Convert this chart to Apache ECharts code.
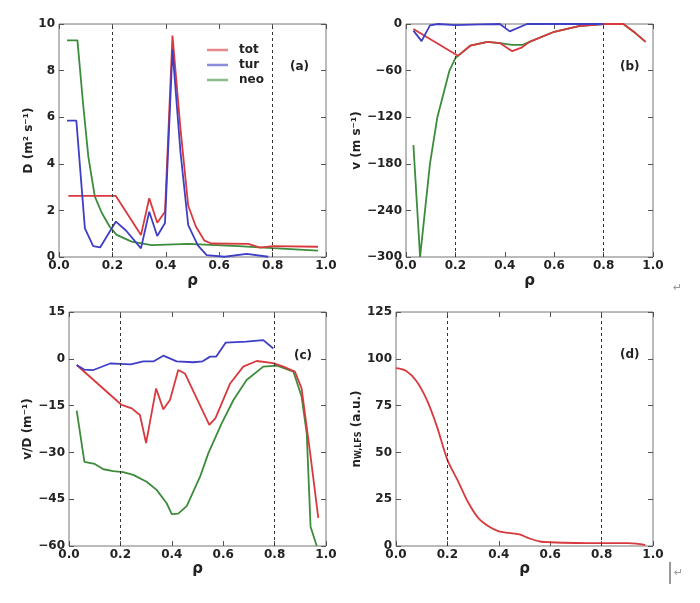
<!DOCTYPE html>
<html>
<head>
<meta charset="utf-8">
<script src="https://cdn.jsdelivr.net/npm/echarts@6/dist/echarts.min.js"></script>
<style>
  html, body { margin: 0; padding: 0; background: #fff; }
  #chart { width: 700px; height: 603px; }
</style>
</head>
<body>
<div id="chart"></div>
<script>
// (a) diffusion D
const aTotRho = [0.035, 0.213, 0.307, 0.338, 0.368, 0.397, 0.425, 0.455, 0.484, 0.513, 0.545, 0.57, 0.709, 0.753, 0.8, 0.97]
const aTotD = [2.62, 2.62, 0.94, 2.52, 1.47, 1.94, 9.5, 5.5, 2.2, 1.3, 0.7, 0.58, 0.56, 0.4, 0.47, 0.44]
const aTurRho = [0.03, 0.065, 0.097, 0.128, 0.154, 0.213, 0.25, 0.307, 0.338, 0.368, 0.397, 0.425, 0.455, 0.484, 0.52, 0.553, 0.62, 0.703, 0.784]
const aTurD = [5.85, 5.85, 1.23, 0.47, 0.41, 1.52, 1.15, 0.37, 1.94, 0.9, 1.46, 8.9, 4.5, 1.37, 0.5, 0.08, 0.01, 0.13, 0.01]
const aNeoRho = [0.03, 0.069, 0.09, 0.11, 0.134, 0.16, 0.19, 0.216, 0.272, 0.347, 0.484, 0.672, 0.8, 0.97]
const aNeoD = [9.3, 9.3, 6.6, 4.3, 2.6, 1.9, 1.3, 0.95, 0.66, 0.51, 0.56, 0.47, 0.38, 0.27]

// (b) convection v
const bTotRho = [0.03, 0.21, 0.26, 0.33, 0.38, 0.43, 0.47, 0.5, 0.6, 0.7, 0.8, 0.88, 0.93, 0.97]
const bTotV = [-6.5, -41, -28, -23, -24.5, -35, -30, -23, -10, -2.6, 0, 0, -12, -23]
const bTurRho = [0.03, 0.063, 0.097, 0.13, 0.2, 0.3, 0.38, 0.42, 0.49, 0.55, 0.8]
const bTurV = [-8.6, -22, -1.7, 0, -1.5, -0.5, 0, -9.5, 0, 0, 0]
const bNeoRho = [0.03, 0.057, 0.077, 0.097, 0.127, 0.176, 0.2, 0.26, 0.33, 0.38, 0.43, 0.47, 0.5, 0.6, 0.7, 0.8, 0.88, 0.93, 0.97]
const bNeoV = [-156, -300, -240, -180, -120, -60, -44, -28, -23, -24.5, -27, -27, -23, -10, -2.6, 0, 0, -12, -23]

// (c) v/D
const cTotRho = [0.03, 0.205, 0.244, 0.276, 0.3, 0.339, 0.367, 0.393, 0.425, 0.451, 0.497, 0.546, 0.57, 0.627, 0.678, 0.73, 0.795, 0.834, 0.879, 0.905, 0.938, 0.97]
const cTotVD = [-2, -14.8, -15.9, -18, -27, -9.5, -16.2, -13.2, -3.6, -4.7, -12.7, -21.2, -19, -7.9, -2.5, -0.7, -1.4, -2.5, -4.1, -9.5, -30, -51]
const cTurRho = [0.03, 0.06, 0.095, 0.16, 0.2, 0.24, 0.289, 0.33, 0.367, 0.419, 0.484, 0.52, 0.549, 0.573, 0.61, 0.69, 0.756, 0.795]
const cTurVD = [-2, -3.5, -3.6, -1.5, -1.6, -1.8, -0.8, -0.8, 1.0, -0.8, -1.1, -0.8, 0.7, 0.7, 5.2, 5.5, 6.0, 3.3]
const cNeoRho = [0.03, 0.06, 0.1, 0.134, 0.172, 0.211, 0.25, 0.302, 0.341, 0.38, 0.4, 0.425, 0.458, 0.51, 0.542, 0.594, 0.64, 0.691, 0.756, 0.81, 0.873, 0.905, 0.925, 0.94, 0.964]
const cNeoVD = [-16.6, -33, -33.7, -35.4, -36, -36.3, -37.2, -39.4, -42, -46.3, -49.8, -49.6, -47.2, -37.8, -30.3, -20.7, -13.2, -6.8, -2.5, -2.2, -4.1, -12.1, -23.9, -53.8, -60]

// (d) W density
const dRho = [0, 0.04, 0.08, 0.12, 0.16, 0.2, 0.24, 0.28, 0.32, 0.36, 0.4, 0.44, 0.48, 0.52, 0.56, 0.6, 0.7, 0.8, 0.9, 0.95, 0.97]
const dN = [95, 93.5, 88, 78, 63.5, 46, 35, 23.5, 15, 10.5, 7.8, 7, 6.2, 4, 2.4, 2, 1.6, 1.5, 1.5, 1, 0.5]

const rhoTicks = { min: 0, max: 1, interval: 0.2 }
const yRanges = [
  { min: 0, max: 10, interval: 2 },
  { min: -300, max: 0, interval: 60 },
  { min: -60, max: 15, interval: 15 },
  { min: 0, max: 125, interval: 25 }
]

const RED = '#d8393e'
const BLUE = '#3f3fc6'
const GREEN = '#3c8c3c'
const FONT = 'DejaVu Sans'

const grids = [
  { left: 59, top: 24, width: 267, height: 233 },
  { left: 406, top: 24, width: 247, height: 233 },
  { left: 69, top: 312, width: 257, height: 234 },
  { left: 396, top: 312, width: 257, height: 234 }
]
const yNames = ['D (m² s⁻¹)', 'v (m s⁻¹)', 'v/D (m⁻¹)', '{n|n}{s|W,LFS}{n| (a.u.)}']
const yNameGaps = [22, 42, 29, 15]
const xNameGaps = [17, 17, 15, 15]

const zip = (xs, ys) => xs.map((x, i) => [x, ys[i]])
const minus = v => String(v).replace('-', '−')

const tick = { show: true, inside: true, length: 5, lineStyle: { color: '#555', width: 1 } }
const noLine = { show: false, onZero: false }
const labelStyle = { color: '#222', fontFamily: FONT, fontWeight: 'bold', fontSize: 12 }

const xAxis = []
const yAxis = []
grids.forEach((g, i) => {
  xAxis.push({
    gridIndex: i, type: 'value', position: 'bottom', ...rhoTicks,
    name: 'ρ', nameLocation: 'middle', nameGap: xNameGaps[i],
    nameTextStyle: { color: '#222', fontFamily: FONT, fontWeight: 'bold', fontSize: 15 },
    axisLine: noLine, axisTick: tick, splitLine: { show: false },
    axisLabel: { ...labelStyle, margin: 3, formatter: v => v.toFixed(1) }
  })
  yAxis.push({
    gridIndex: i, type: 'value', position: 'left', ...yRanges[i],
    name: yNames[i], nameLocation: 'middle', nameGap: yNameGaps[i],
    nameTextStyle: {
      color: '#222', fontFamily: FONT, fontWeight: 'bold', fontSize: 12,
      rich: {
        n: { fontFamily: FONT, fontWeight: 'bold', fontSize: 12, color: '#222', verticalAlign: 'bottom' },
        s: { fontFamily: FONT, fontWeight: 'bold', fontSize: 8, color: '#222', verticalAlign: 'bottom', padding: [4, 0, 0, 0] }
      }
    },
    axisLine: noLine, axisTick: tick, splitLine: { show: false },
    axisLabel: { ...labelStyle, margin: 4, formatter: v => minus(v) }
  })
})
// ticks on the top and right frame
grids.forEach((g, i) => {
  xAxis.push({ gridIndex: i, type: 'value', position: 'top', ...rhoTicks, axisLine: noLine, axisTick: tick, axisLabel: { show: false }, splitLine: { show: false } })
  yAxis.push({ gridIndex: i, type: 'value', position: 'right', ...yRanges[i], axisLine: noLine, axisTick: tick, axisLabel: { show: false }, splitLine: { show: false } })
})

const guides = {
  silent: true, symbol: 'none', label: { show: false },
  lineStyle: { color: '#333', type: [3, 3], width: 1 },
  data: [{ xAxis: 0.2 }, { xAxis: 0.8 }]
}

function line(name, color, data, i, extra) {
  return {
    name, type: 'line', xAxisIndex: i, yAxisIndex: i, data,
    showSymbol: false, symbol: 'none', color,
    lineStyle: { color, width: 1.8 }, animation: false, ...extra
  }
}

const series = [
  line('neo', GREEN, zip(aNeoRho, aNeoD), 0, { markLine: guides }),
  line('tot', RED, zip(aTotRho, aTotD), 0),
  line('tur', BLUE, zip(aTurRho, aTurD), 0),

  line('neo', GREEN, zip(bNeoRho, bNeoV), 1, { markLine: guides }),
  line('tot', RED, zip(bTotRho, bTotV), 1),
  line('tur', BLUE, zip(bTurRho, bTurV), 1),

  line('neo', GREEN, zip(cNeoRho, cNeoVD), 2, { markLine: guides }),
  line('tot', RED, zip(cTotRho, cTotVD), 2),
  line('tur', BLUE, zip(cTurRho, cTurVD), 2),

  line('tot', RED, zip(dRho, dN), 3, { markLine: guides, smooth: 0.3 })
]

const panelLabel = (text, left, top) => ({
  type: 'text', left, top,
  style: { text, fill: '#222', font: 'bold 12px "DejaVu Sans"' }
})

const myChart = echarts.init(document.getElementById('chart'))
myChart.setOption({
  backgroundColor: '#fff',
  animation: false,
  grid: grids.map(g => ({ ...g, show: true, borderColor: '#777', borderWidth: 1, backgroundColor: 'transparent' })),
  xAxis,
  yAxis,
  legend: {
    data: [
      { name: 'tot', itemStyle: { color: RED, opacity: 0.6 } },
      { name: 'tur', itemStyle: { color: BLUE, opacity: 0.6 } },
      { name: 'neo', itemStyle: { color: GREEN, opacity: 0.6 } }
    ],
    orient: 'vertical', left: 202, top: 39,
    icon: 'rect', itemWidth: 21, itemHeight: 2.5, itemGap: 3,
    textStyle: { color: '#222', fontFamily: FONT, fontWeight: 'bold', fontSize: 12, lineHeight: 12, padding: [0, 0, 0, 6] }
  },
  graphic: [
    panelLabel('(a)', 290, 61),
    panelLabel('(b)', 620, 61),
    panelLabel('(c)', 294, 350),
    panelLabel('(d)', 620, 349),
    { type: 'text', left: 673, top: 283, style: { text: '↵', fill: '#999', font: '11px "DejaVu Sans"' } },
    { type: 'text', left: 674, top: 568, style: { text: '↵', fill: '#999', font: '11px "DejaVu Sans"' } },
    { type: 'line', shape: { x1: 670, y1: 562, x2: 670, y2: 584 }, style: { stroke: '#333', lineWidth: 1 } }
  ],
  series
})
</script>
</body>
</html>
